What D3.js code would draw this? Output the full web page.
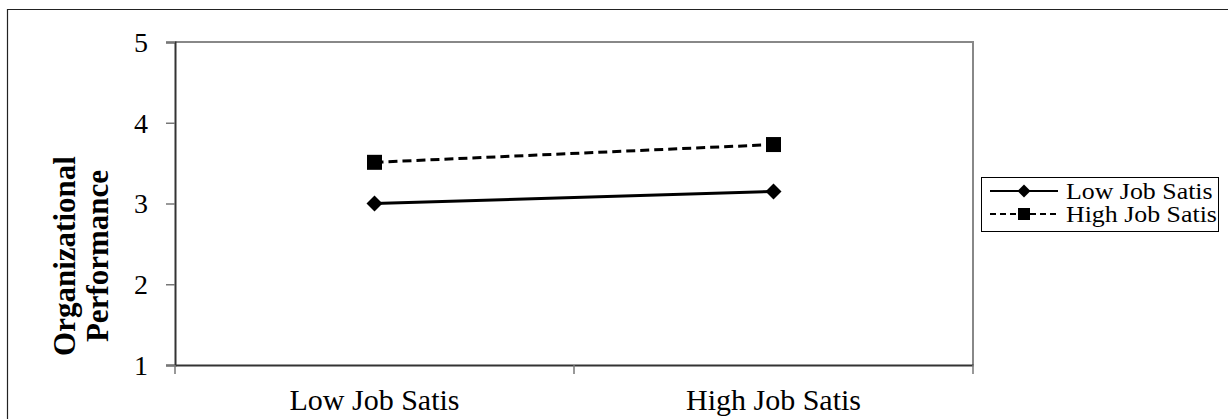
<!DOCTYPE html>
<html><head><meta charset="utf-8">
<script src="https://cdn.jsdelivr.net/npm/d3@7"></script>
<style>body{margin:0;background:#fff}svg{display:block}</style>
</head><body>
<svg id="chart" width="1228" height="419"></svg>
<script>
const categories = ["Low Job Satis", "High Job Satis"];
const seriesNames = ["Low Job Satis", "High Job Satis"];
const lowJobSatis = [3.00, 3.15];
const highJobSatis = [3.51, 3.73];
const yTicks = [1, 2, 3, 4, 5];
const yTitle = ["Organizational", "Performance"];

const svg = d3.select("#chart");
const font = "'Liberation Serif','Times New Roman',serif";
const m = {left: 175, right: 973, top: 42, bottom: 365};

// outer frame
svg.append("path").attr("d", `M7.5,419 V9.5 H1228`).attr("fill","none").attr("stroke","#222").attr("stroke-width",1.2);

const x = d3.scaleBand().domain(categories).range([m.left, m.right]);
const y = d3.scaleLinear().domain([1,5]).range([m.bottom, m.top]);

// plot area border (top and right)
svg.append("path").attr("d", `M${m.left},${m.top} H${m.right} V${m.bottom}`)
  .attr("fill","none").attr("stroke","#888").attr("stroke-width",2);

// y axis
const yAxis = svg.append("g").attr("transform", `translate(${m.left},0)`)
  .call(d3.axisLeft(y).tickValues(yTicks).tickSize(9).tickPadding(18).tickFormat(d3.format("d")));
yAxis.select(".domain").attr("stroke","#333").attr("stroke-width",2);
yAxis.selectAll(".tick line").attr("stroke","#777").attr("stroke-width",1.5);
yAxis.selectAll("text").attr("font-family", font).attr("font-size", 28).attr("fill","#000").attr("dy","0.33em");

// x axis
const xAxis = svg.append("g").attr("transform", `translate(0,${m.bottom})`)
  .call(d3.axisBottom(x).tickSize(0).tickPadding(24));
xAxis.select(".domain").attr("stroke","#333").attr("stroke-width",2);
xAxis.selectAll("text").attr("font-family", font).attr("font-size", 30).attr("fill","#000");
// x tick marks at category boundaries
const bounds = [m.left].concat(categories.map(c => x(c) + x.bandwidth()));
svg.append("g").selectAll("line").data(bounds).join("line")
  .attr("x1", d => d).attr("x2", d => d).attr("y1", m.bottom).attr("y2", m.bottom + 9)
  .attr("stroke","#777").attr("stroke-width",1.5);

// y title
const t = svg.append("text").attr("transform", `translate(75,256) rotate(-90)`)
  .attr("text-anchor","middle").attr("font-family", font).attr("font-weight","bold").attr("font-size",31);
t.selectAll("tspan").data(yTitle).join("tspan").attr("x",0).attr("dy",(d,i)=> i===0 ? "0" : "1.05em").text(d=>d);

const cx = c => x(c) + x.bandwidth()/2;
const line = d3.line().x((d,i)=>cx(categories[i])).y(d=>y(d));

// series lines
svg.append("path").datum(lowJobSatis).attr("d", line).attr("fill","none").attr("stroke","#000").attr("stroke-width",3);
svg.append("path").datum(highJobSatis).attr("d", line).attr("fill","none").attr("stroke","#000").attr("stroke-width",3).attr("stroke-dasharray","9,5");

function drawDiamond(g, px, py, s) {
  g.append("path").attr("d", `M${px},${py-s} L${px+s},${py} L${px},${py+s} L${px-s},${py} Z`).attr("fill","#000");
}
function drawSquare(g, px, py, s) {
  g.append("rect").attr("x", px-s).attr("y", py-s).attr("width", 2*s).attr("height", 2*s).attr("fill","#000");
}
const mk = svg.append("g");
lowJobSatis.forEach((v,i)=> drawDiamond(mk, cx(categories[i]), y(v), 8));
highJobSatis.forEach((v,i)=> drawSquare(mk, cx(categories[i]), y(v), 7.5));

// legend
const lg = svg.append("g").attr("transform","translate(981,177)");
lg.append("rect").attr("x",0.5).attr("y",0.5).attr("width",237).attr("height",54).attr("fill","#fff").attr("stroke","#000").attr("stroke-width",1);
seriesNames.forEach((name,i)=>{
  const ry = 14 + i*23;
  lg.append("line").attr("x1",9).attr("x2",77).attr("y1",ry).attr("y2",ry).attr("stroke","#000").attr("stroke-width",2)
    .attr("stroke-dasharray", i===1 ? "6,4" : null);
  if (i===0) drawDiamond(lg, 43, ry, 6.5); else drawSquare(lg, 43, ry, 6);
  lg.append("text").attr("transform",`translate(85,${ry}) scale(1.15,1)`).attr("dy","0.35em")
    .attr("font-family",font).attr("font-size",22.5).text(name);
});
</script>
</body></html>
